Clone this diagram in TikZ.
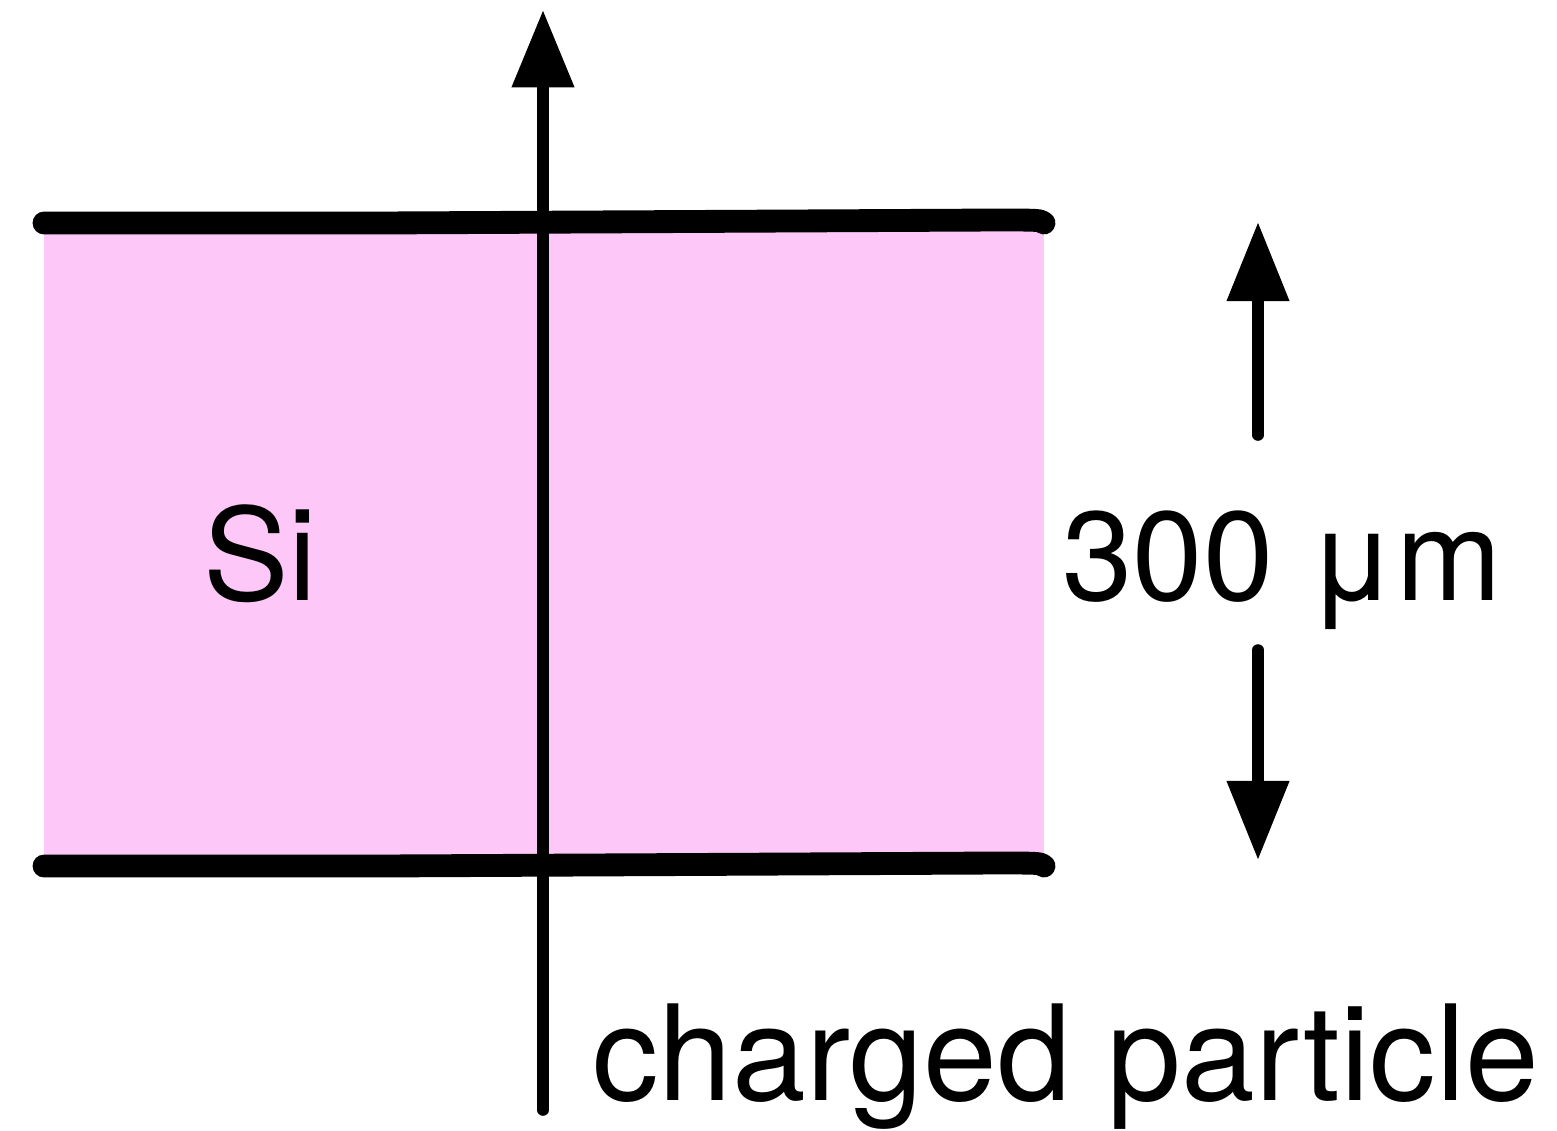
\documentclass[tikz,border=0pt]{standalone}
\usepackage{fontspec}
\setmainfont{TeX Gyre Heros}
\usetikzlibrary{arrows.meta}
\definecolor{sipink}{HTML}{FDC8F8}
\tikzset{
  plate/.style={line width=13pt, line cap=round, line join=round},
  track/.style={line width=6.6pt, line cap=round, -{Triangle[length=44pt,width=34pt]}},
  dim/.style={line width=6.6pt, line cap=round, -{Triangle[length=45pt,width=34pt]}},
  lbl/.style={inner sep=0pt, anchor=base west, font=\fontsize{73pt}{80pt}\selectfont}
}
\begin{document}
\begin{tikzpicture}[x=0.02cm,y=-0.02cm]
\useasboundingbox (0,0) rectangle (1557,1130);
% silicon slab
\fill[sipink] (44,226) rectangle (1044,862);
% plates
\coordinate (tl) at (44,223);
\coordinate (tr) at (1044,223);
\coordinate (bl) at (44,866);
\coordinate (br) at (1044,866);
\draw[plate] (tl) -- (380,223) -- (995,220) .. controls (1040,220) .. (tr);
\draw[plate] (bl) -- (380,866) -- (995,863) .. controls (1040,863) .. (br);
% particle track
\coordinate (pstart) at (543,1110);
\coordinate (pend) at (543,10);
\draw[track] (pstart) -- (pend);
% thickness arrows
\coordinate (u0) at (1258,435);
\coordinate (u1) at (1258,222);
\coordinate (d0) at (1258,650);
\coordinate (d1) at (1258,860);
\draw[dim] (u0) -- (u1);
\draw[dim] (d0) -- (d1);
% labels
\node[lbl] (si) at (203,600) {Si};
\node[lbl, font=\fontsize{72pt}{80pt}\selectfont] (thick) at (1062,600) {300 μm};
\node[lbl, font=\fontsize{75.5pt}{80pt}\selectfont] (cp) at (592,1100) {charged particle};
\end{tikzpicture}
\end{document}
